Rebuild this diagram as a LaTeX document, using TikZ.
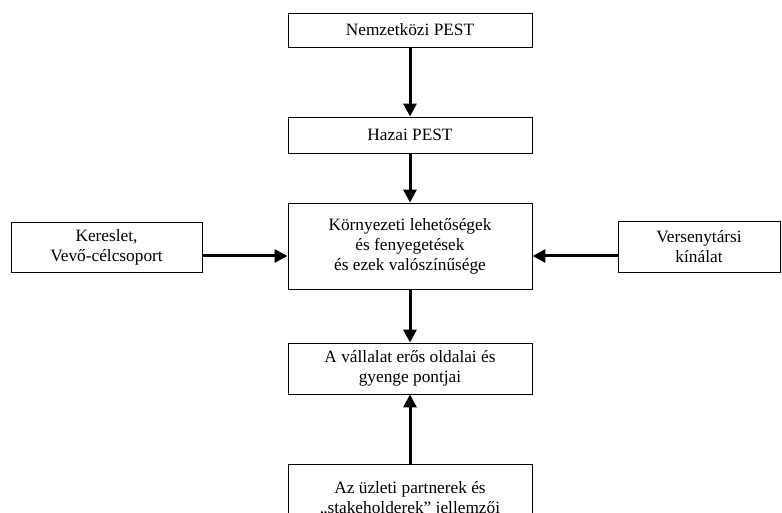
\documentclass[tikz,border=0pt]{standalone}
\usepackage{fontspec}
\setmainfont{Liberation Serif}
\usetikzlibrary{arrows.meta}
\tikzset{
  box/.style={draw, line width=0.9pt, rectangle, align=center, inner sep=0pt,
    font=\fontsize{17.3}{20}\selectfont},
  conn/.style={line width=3pt, -{Triangle[length=13pt,width=13pt]}}
}
\begin{document}
\begin{tikzpicture}[x=1pt,y=1pt]
\useasboundingbox (0,0) rectangle (782,-513);
\clip (0,0) rectangle (782,-513);
\node[box, minimum width=244pt, minimum height=34pt] (n1) at (410,-30) {Nemzetközi PEST};
\node[box, minimum width=244pt, minimum height=36pt] (n2) at (410,-135) {Hazai PEST};
\node[box, minimum width=244pt, minimum height=86pt] (n3) at (410,-246) {Környezeti lehetőségek\\ és fenyegetések\\ és ezek valószínűsége};
\node[box, minimum width=191pt, minimum height=50pt] (kl) at (106.5,-247) {Kereslet,\\ Vevő-célcsoport};
\node[box, minimum width=162pt, minimum height=51pt] (vk) at (699,-246.5) {Versenytársi\\ kínálat};
\node[box, minimum width=244pt, minimum height=51pt] (n4) at (410,-368.5) {A vállalat erős oldalai és\\ gyenge pontjai};
\node[box, minimum width=244pt, minimum height=70pt] (n5) at (410,-499) {Az üzleti partnerek és\\ „stakeholderek” jellemzői};
\draw[conn] (n1) -- (n2);
\draw[conn] (n2) -- (n3);
\draw[conn] ([yshift=-9pt]kl.east) -- ([yshift=-9pt]kl.east -| n3.west);
\draw[conn] ([yshift=-9.5pt]vk.west) -- ([yshift=-9.5pt]vk.west -| n3.east);
\draw[conn] (n3) -- (n4);
\draw[conn] (n5) -- (n4);
\end{tikzpicture}
\end{document}
